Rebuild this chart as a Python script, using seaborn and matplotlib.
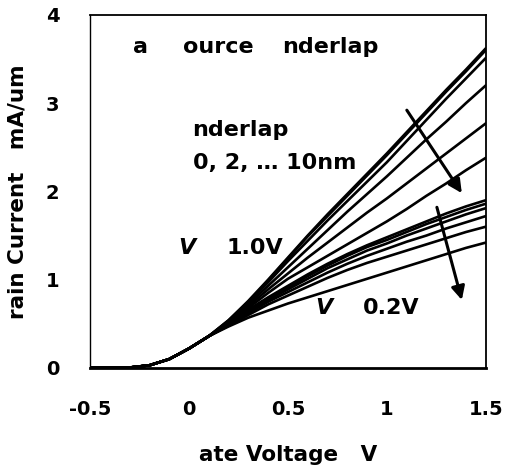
import numpy as np
import pandas as pd
import matplotlib
matplotlib.use("Agg")
import matplotlib.pyplot as plt
import seaborn as sns

# ---------------- data ----------------
vg = [-0.5, -0.4, -0.3, -0.2, -0.1, 0.0, 0.1, 0.2, 0.3, 0.4, 0.5, 0.6, 0.7,
      0.8, 0.9, 1.0, 1.1, 1.2, 1.3, 1.4, 1.5]
base = [0.0, 0.0, 0.005, 0.03, 0.10, 0.22, 0.36]

# Vd = 1.0 V, underlap 0, 2, ... 10 nm
vd10_0 = base + [0.54, 0.76, 1.00, 1.25, 1.50, 1.74, 1.97, 2.20, 2.43, 2.67, 2.91, 3.15, 3.38, 3.62]
vd10_2 = base + [0.54, 0.75, 0.99, 1.24, 1.49, 1.72, 1.95, 2.18, 2.41, 2.65, 2.89, 3.13, 3.36, 3.60]
vd10_4 = base + [0.53, 0.74, 0.97, 1.21, 1.44, 1.67, 1.89, 2.11, 2.33, 2.57, 2.81, 3.05, 3.28, 3.51]
vd10_6 = base + [0.52, 0.72, 0.93, 1.14, 1.35, 1.56, 1.77, 1.97, 2.17, 2.38, 2.59, 2.79, 3.00, 3.20]
vd10_8 = base + [0.51, 0.70, 0.89, 1.07, 1.25, 1.42, 1.59, 1.76, 1.92, 2.09, 2.26, 2.43, 2.60, 2.77]
vd10_10 = base + [0.50, 0.68, 0.85, 1.01, 1.14, 1.27, 1.40, 1.53, 1.66, 1.80, 1.95, 2.09, 2.24, 2.38]

# Vd = 0.2 V, underlap 0, 2, ... 10 nm
vd02_0 = base + [0.50, 0.66, 0.80, 0.93, 1.06, 1.18, 1.29, 1.39, 1.48, 1.57, 1.66, 1.75, 1.83, 1.90]
vd02_2 = base + [0.50, 0.65, 0.79, 0.91, 1.04, 1.16, 1.27, 1.37, 1.45, 1.54, 1.63, 1.71, 1.79, 1.86]
vd02_4 = base + [0.49, 0.64, 0.77, 0.89, 1.01, 1.13, 1.23, 1.33, 1.41, 1.50, 1.58, 1.66, 1.74, 1.81]
vd02_6 = base + [0.49, 0.62, 0.75, 0.86, 0.97, 1.08, 1.18, 1.27, 1.35, 1.43, 1.50, 1.58, 1.65, 1.72]
vd02_8 = base + [0.48, 0.60, 0.72, 0.82, 0.92, 1.02, 1.11, 1.19, 1.26, 1.33, 1.40, 1.47, 1.54, 1.60]
vd02_10 = base + [0.47, 0.57, 0.65, 0.73, 0.80, 0.87, 0.94, 1.01, 1.08, 1.15, 1.22, 1.29, 1.36, 1.42]

series = {
    "1.0V_0": vd10_0, "1.0V_2": vd10_2, "1.0V_4": vd10_4,
    "1.0V_6": vd10_6, "1.0V_8": vd10_8, "1.0V_10": vd10_10,
    "0.2V_0": vd02_0, "0.2V_2": vd02_2, "0.2V_4": vd02_4,
    "0.2V_6": vd02_6, "0.2V_8": vd02_8, "0.2V_10": vd02_10,
}

x_ticks = [-0.5, 0, 0.5, 1, 1.5]
x_tick_labels = ["-0.5", "0", "0.5", "1", "1.5"]
y_ticks = [0, 1, 2, 3, 4]
y_tick_labels = ["0", "1", "2", "3", "4"]

rows = []
for name, vals in series.items():
    for xv, yv in zip(vg, vals):
        rows.append({"curve": name, "Vg": xv, "Id": yv})
df = pd.DataFrame(rows)

# ---------------- plot ----------------
sns.set_style("white")
plt.rcParams["font.family"] = ["DejaVu Sans"]
plt.rcParams["font.weight"] = "bold"
plt.rcParams["text.color"] = "black"
plt.rcParams["axes.labelcolor"] = "black"
plt.rcParams["xtick.labelcolor"] = "black"
plt.rcParams["ytick.labelcolor"] = "black"

fig = plt.figure(figsize=(5.06, 4.69), dpi=100)
ax = fig.add_axes([0.178, 0.2154, 0.782, 0.753])

sns.lineplot(data=df, x="Vg", y="Id", units="curve", estimator=None,
             color="black", linewidth=1.9, ax=ax, legend=False)

ax.set_xlim(-0.5, 1.5)
ax.set_ylim(0, 4)
ax.set_xticks(x_ticks)
ax.set_xticklabels(x_tick_labels, fontsize=14, fontweight="bold", color="black")
ax.set_yticks(y_ticks)
ax.set_yticklabels(y_tick_labels, fontsize=14, fontweight="bold", color="black")
ax.tick_params(axis="both", direction="in", length=7, width=0.8,
               color="#808080", top=False, right=False)
ax.tick_params(axis="x", pad=23)
ax.tick_params(axis="y", pad=22)
for s in ax.spines.values():
    s.set_visible(True)
    s.set_color("black")
    s.set_linewidth(1.3)
ax.spines["left"].set_linewidth(1.0)
ax.spines["bottom"].set_linewidth(2.0)

ax.set_xlabel("ate Voltage   V", fontsize=15.5, fontweight="bold", labelpad=19,
              color="black")
ax.set_ylabel("rain Current   mA/um", fontsize=15.5, fontweight="bold", labelpad=13,
              color="black")

tk = dict(transform=ax.transAxes, fontsize=16, fontweight="bold", va="center",
          ha="left", color="black")
ax.text(0.109, 0.909, "a", **tk)
ax.text(0.235, 0.909, "ource", **tk)
ax.text(0.485, 0.909, "nderlap", **tk)
ax.text(0.258, 0.674, "nderlap", **tk)
ax.text(0.260, 0.581, "0, 2, \u2026 10nm", **tk)
ax.text(0.222, 0.340, "V", style="italic", **tk)
ax.text(0.346, 0.340, "1.0V", **tk)
ax.text(0.568, 0.170, "V", style="italic", **tk)
ax.text(0.689, 0.170, "0.2V", **tk)

ap = dict(arrowstyle="-|>", color="black", lw=2.2, mutation_scale=20,
          shrinkA=0, shrinkB=0)
ax.annotate("", xy=(1.379, 1.98), xytext=(1.101, 2.92), arrowprops=ap)
ax.annotate("", xy=(1.379, 0.77), xytext=(1.253, 1.82), arrowprops=ap)

fig.savefig("out.png", dpi=100)
